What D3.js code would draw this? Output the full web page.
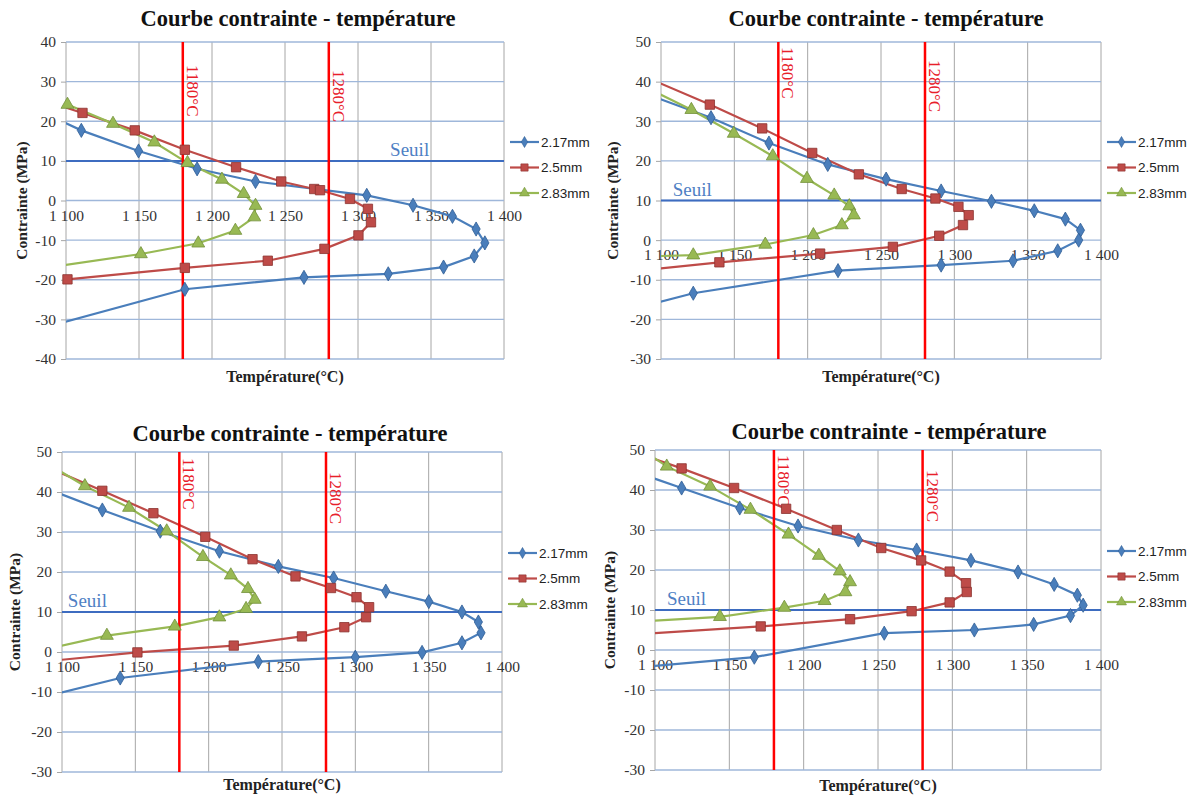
<!DOCTYPE html>
<html><head><meta charset="utf-8">
<script src="https://cdn.jsdelivr.net/npm/d3@7"></script>
<style>body{margin:0;background:#fff}svg{display:block}</style>
</head><body><svg id="c" width="1195" height="799"></svg>
<script>
// ---------- text & categories ----------
const chartTitle = "Courbe contrainte - température";
const xTitle = "Température(°C)";
const yTitle = "Contrainte (MPa)";
const seriesNames = ["2.17mm", "2.5mm", "2.83mm"];
const xTicks = [1100, 1150, 1200, 1250, 1300, 1350, 1400];
const yTicksA = [-40, -30, -20, -10, 0, 10, 20, 30, 40];
const yTicksB = [-30, -20, -10, 0, 10, 20, 30, 40, 50];
const refTemps = [1180, 1280];
const refLabels = ["1180°C", "1280°C"];
const seuilValue = 10;
const seuilLabel = "Seuil";

// ---------- data: [température, contrainte] ----------
// Panel 1 (top-left)
const p1_217 = [[1090,21.2],[1110.5,17.7],[1149.7,12.5],[1189.8,8],[1229.8,4.8],[1306,1.3],[1337.7,-1.2],[1364.7,-4],[1380.9,-7.2],[1386.9,-10.7],[1379.6,-14],[1358.6,-16.8],[1320.7,-18.5],[1263,-19.4],[1181.4,-22.4],[1090,-31.6]];
const p1_25  = [[1090,24.6],[1111.3,22.1],[1147.1,17.7],[1181.4,12.8],[1216.5,8.4],[1247.4,4.8],[1270,2.9],[1274,2.6],[1294.5,0.4],[1306.8,-2.1],[1308.9,-5.5],[1300.3,-8.8],[1277,-12.2],[1238.2,-15.2],[1181.4,-17],[1101,-19.9]];
const p1_283 = [[1101,24.2],[1132.2,19.4],[1160.5,14.7],[1183.2,9.5],[1206.8,5.3],[1221.7,1.7],[1229.8,-1.3],[1229,-4.2],[1216,-7.6],[1190.6,-10.8],[1151.3,-13.5],[1090,-16.8]];
// Panel 2 (top-right)
const p2_217 = [[1090,36.9],[1134.1,30.9],[1173.6,24.5],[1213.7,19.1],[1253.5,15.4],[1291,12.4],[1325.3,9.8],[1354.5,7.4],[1375.7,5.3],[1386,2.5],[1384.8,0],[1370.5,-2.7],[1340,-5.2],[1291,-6.3],[1220.7,-7.7],[1122,-13.4],[1090,-16.5]];
const p2_25  = [[1090,41.1],[1133.3,34.2],[1169,28.2],[1203.1,22],[1234.9,16.6],[1264.1,12.9],[1287.1,10.5],[1302.8,8.4],[1309.8,6.3],[1305.9,3.8],[1289.7,1.1],[1258.1,-1.7],[1208.5,-3.4],[1139.8,-5.6],[1090,-7.5]];
const p2_283 = [[1090,38.5],[1120.7,32.9],[1149.6,26.9],[1176.2,21.2],[1199.5,15.5],[1218.1,11.3],[1228.4,8.6],[1231.5,6.3],[1223.3,3.8],[1203.9,1.3],[1171.1,-1.1],[1122,-3.8],[1090,-4.1]];
// Panel 3 (bottom-left)
const p3_217 = [[1090,40.8],[1127.5,35.5],[1167,30.2],[1207.3,25.2],[1247.5,21.4],[1285.2,18.5],[1320.8,15.2],[1350.1,12.6],[1372.7,10],[1383.9,7.5],[1385.7,4.8],[1372.7,2.3],[1345.5,-0.1],[1300,-1.3],[1233.8,-2.4],[1139.7,-6.5],[1090,-11]];
const p3_25  = [[1090,46.2],[1127.5,40.3],[1162.3,34.7],[1197.7,28.8],[1229.9,23.2],[1259.2,18.9],[1283.4,16],[1300.8,13.7],[1309.4,11.2],[1307.3,8.7],[1292.5,6.2],[1263.6,3.9],[1217.1,1.6],[1151.4,-0.1],[1090,-2.3]];
const p3_283 = [[1090,47.1],[1115.6,41.5],[1145.7,36.1],[1171.4,30.2],[1196.1,23.8],[1215.1,19.2],[1226.8,15.8],[1231.4,13.1],[1225.5,10.8],[1207.3,8.7],[1176.9,6.4],[1130.6,4.1],[1090,0.8]];
// Panel 4 (bottom-right)
const p4_217 = [[1090,44.1],[1117.9,40.5],[1157,35.5],[1196.2,31],[1236.8,27.5],[1276,25],[1312.5,22.4],[1344.2,19.5],[1368.5,16.4],[1384.1,13.7],[1388,11.2],[1379.5,8.6],[1354.7,6.4],[1314.8,5],[1254.2,4.2],[1166.8,-1.8],[1090,-4.3]];
const p4_25  = [[1090,49],[1117.9,45.4],[1153.2,40.5],[1188.2,35.3],[1222.3,30],[1252.2,25.5],[1279,22.4],[1298.2,19.6],[1309.2,16.7],[1309.7,14.5],[1298.2,11.9],[1272.6,9.7],[1231.2,7.7],[1171.1,5.9],[1090,4]];
const p4_283 = [[1090,50.4],[1107.9,45.9],[1137.1,40.9],[1164.2,35.1],[1189.8,28.9],[1210.2,23.6],[1224.3,19.7],[1231.2,17],[1228.1,14.5],[1214.1,12.3],[1187,10.6],[1143.7,8.3],[1090,7.1]];

// ---------- layout (positions / styles) ----------
const panels = [
  {L:66, R:504, T:42, B:359, yTicks:yTicksA, data:[p1_217,p1_25,p1_283], titleX:298, titleY:26, legX:510, legY:142, seuilT:1322, refTop:[65,70], yTitleX:22, xTitleY:382},
  {L:661, R:1101, T:42, B:359, yTicks:yTicksB, data:[p2_217,p2_25,p2_283], titleX:886, titleY:26, legX:1107, legY:142, seuilT:1108, refTop:[47,60], yTitleX:613, xTitleY:382},
  {L:62, R:502, T:452, B:772, yTicks:yTicksB, data:[p3_217,p3_25,p3_283], titleX:290, titleY:441, legX:508, legY:553, seuilT:1104, refTop:[458,472], yTitleX:15, xTitleY:790},
  {L:655, R:1101, T:450, B:770, yTicks:yTicksB, data:[p4_217,p4_25,p4_283], titleX:889, titleY:439, legX:1107, legY:551, seuilT:1108, refTop:[455,470], yTitleX:610, xTitleY:791}
];
const colors = ["#4a7ebb", "#be4b48", "#98b954"];
const strokes = ["#2f5d94", "#8c3330", "#72903a"];
const symbols = [d3.symbolDiamond, d3.symbolSquare, d3.symbolTriangle];
const symSizes = [58, 88, 72];
const serif = "'Liberation Serif', 'Times New Roman', serif";
const sans = "'Liberation Sans', Arial, sans-serif";

const svg = d3.select("#c");
const fmt = v => { const s = String(v); return s.length > 3 ? s.slice(0, s.length-3) + " " + s.slice(-3) : s; };

panels.forEach((p, pi) => {
  const g = svg.append("g");
  const x = d3.scaleLinear().domain([1100, 1400]).range([p.L, p.R]);
  const y = d3.scaleLinear().domain([p.yTicks[0], p.yTicks[p.yTicks.length-1]]).range([p.B, p.T]);

  // vertical gridlines
  g.append("g").selectAll("line").data(xTicks).join("line")
    .attr("x1", d => x(d)).attr("x2", d => x(d)).attr("y1", p.T).attr("y2", p.B)
    .attr("stroke", "#a6a6a6").attr("stroke-width", 1);
  // horizontal gridlines
  g.append("g").selectAll("line").data(p.yTicks).join("line")
    .attr("x1", p.L).attr("x2", p.R).attr("y1", d => y(d)).attr("y2", d => y(d))
    .attr("stroke", "#9fb7da").attr("stroke-width", 1.3);

  // y axis ticks and labels (d3 axis)
  const yAxis = d3.axisLeft(y).tickValues(p.yTicks).tickSize(5).tickPadding(5).tickFormat(d => d);
  const ya = g.append("g").attr("transform", `translate(${p.L},0)`).call(yAxis);
  ya.select(".domain").remove();
  ya.selectAll(".tick line").attr("stroke", "#a6a6a6");
  ya.selectAll(".tick text").attr("font-family", serif).attr("font-size", 15.5).attr("fill", "#333");

  // x axis labels at y=0 (axis crosses at 0)
  const xAxis = d3.axisBottom(x).tickValues(xTicks).tickSize(0).tickPadding(9).tickFormat(fmt);
  const xa = g.append("g").attr("transform", `translate(0,${y(0)})`).call(xAxis);
  xa.select(".domain").remove();
  xa.selectAll(".tick text").attr("font-family", serif).attr("font-size", 15.5).attr("fill", "#333");

  // Seuil line
  g.append("line").attr("x1", p.L).attr("x2", p.R).attr("y1", y(seuilValue)).attr("y2", y(seuilValue))
    .attr("stroke", "#3d6cc0").attr("stroke-width", 2);
  g.append("text").attr("x", x(p.seuilT)).attr("y", y(seuilValue) - 5)
    .attr("font-family", serif).attr("font-size", 19).attr("fill", "#4f7fc4").text(seuilLabel);

  // series
  const clipId = "clip" + pi;
  g.append("clipPath").attr("id", clipId).append("rect")
    .attr("x", p.L).attr("y", p.T).attr("width", p.R - p.L).attr("height", p.B - p.T);
  const line = d3.line().x(d => x(d[0])).y(d => y(d[1]));
  p.data.forEach((ser, si) => {
    g.append("path").datum(ser).attr("d", line).attr("fill", "none")
      .attr("stroke", colors[si]).attr("stroke-width", 2.2).attr("clip-path", `url(#${clipId})`);
  });

  // reference red lines
  refTemps.forEach((t, ri) => {
    g.append("line").attr("x1", x(t)).attr("x2", x(t)).attr("y1", p.T).attr("y2", p.B)
      .attr("stroke", "#ff0000").attr("stroke-width", 2.5);
    g.append("text").attr("transform", `translate(${x(t) + 4},${p.refTop[ri]}) rotate(90)`)
      .attr("font-family", serif).attr("font-size", 17).attr("fill", "#e8202a").text(refLabels[ri]);
  });

  // markers on top
  p.data.forEach((ser, si) => {
    const sym = d3.symbol().type(symbols[si]).size(symSizes[si]);
    g.append("g").selectAll("path").data(ser.filter(d => d[0] >= 1100 && d[0] <= 1400)).join("path")
      .attr("transform", d => `translate(${x(d[0])},${y(d[1])})`)
      .attr("d", sym).attr("fill", colors[si]).attr("stroke", strokes[si]).attr("stroke-width", 0.8);
  });

  // legend
  seriesNames.forEach((name, si) => {
    const ly = p.legY + si * 25.5;
    g.append("line").attr("x1", p.legX).attr("x2", p.legX + 29).attr("y1", ly).attr("y2", ly)
      .attr("stroke", colors[si]).attr("stroke-width", 2.2);
    g.append("path").attr("transform", `translate(${p.legX + 14.5},${ly})`)
      .attr("d", d3.symbol().type(symbols[si]).size(symSizes[si] * 0.6))
      .attr("fill", colors[si]).attr("stroke", strokes[si]).attr("stroke-width", 0.6);
    g.append("text").attr("x", p.legX + 31).attr("y", ly).attr("dy", "0.35em")
      .attr("font-family", sans).attr("font-size", 13.5).attr("fill", "#222").text(name);
  });

  // titles
  g.append("text").attr("x", p.titleX).attr("y", p.titleY).attr("text-anchor", "middle")
    .attr("font-family", serif).attr("font-weight", "bold").attr("font-size", 22.5).attr("fill", "#111").text(chartTitle);
  g.append("text").attr("x", (p.L + p.R) / 2).attr("y", p.xTitleY).attr("text-anchor", "middle")
    .attr("font-family", serif).attr("font-weight", "bold").attr("font-size", 16).attr("fill", "#222").text(xTitle);
  g.append("text").attr("transform", `translate(${p.yTitleX},${(p.T + p.B) / 2}) rotate(-90)`)
    .attr("text-anchor", "middle").attr("dy", "0.35em")
    .attr("font-family", serif).attr("font-weight", "bold").attr("font-size", 15.5).attr("fill", "#222").text(yTitle);
});
</script>
</body></html>
